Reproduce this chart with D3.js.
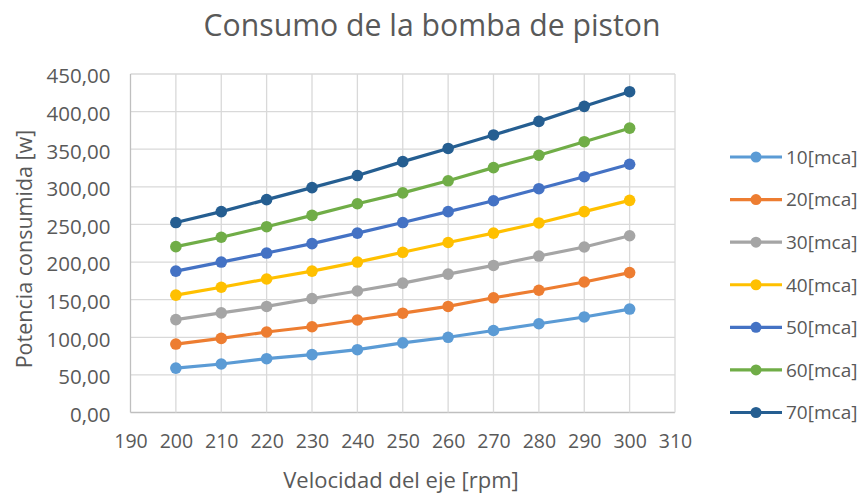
<!DOCTYPE html>
<html><head><meta charset="utf-8">
<script src="https://cdn.jsdelivr.net/npm/d3@7"></script>
<style>
html,body{margin:0;padding:0;background:#fff;}
text{font-family:"Open Sans",Lato,sans-serif;fill:#595959;}
</style></head>
<body><svg id="c" width="864" height="496"></svg>
<script>
const rpm = [200,210,220,230,240,250,260,270,280,290,300];
const seriesNames = ["10[mca]","20[mca]","30[mca]","40[mca]","50[mca]","60[mca]","70[mca]"];
const s10 = [59,64.5,71.5,77,83.5,92.5,100,109,118,127,137.5];
const s20 = [91,98.5,107,114,123,132,141,152.5,162.5,173.5,186];
const s30 = [123.5,132.5,141,151.5,161.5,172,184,195.5,208,220,235];
const s40 = [156,166.5,177.5,188,200,213,226,238.5,252,267,282];
const s50 = [188,200,212,224.5,238.5,252.5,267,281.5,297.5,313.5,330];
const s60 = [220.5,233,247,262,277.5,292,308,325.5,342,360,378];
const s70 = [252.5,267,283,299,315,333.5,351,369,387,407,426.5];
const xTicks = [190,200,210,220,230,240,250,260,270,280,290,300,310];
const yTicks = [0,50,100,150,200,250,300,350,400,450];
const colors = ["#5B9BD5","#ED7D31","#A5A5A5","#FFC000","#4472C4","#70AD47","#255E91"];
const allSeries = [s10,s20,s30,s40,s50,s60,s70];

const svg = d3.select("#c");
const x = d3.scaleLinear().domain([190,310]).range([130.5,675]);
const y = d3.scaleLinear().domain([0,450]).range([412.5,74]);

// gridlines
svg.append("g").selectAll("line.h").data(yTicks).join("line")
  .attr("x1",x(190)).attr("x2",x(310)).attr("y1",d=>y(d)).attr("y2",d=>y(d))
  .attr("stroke",d=>d===0?"#BFBFBF":"#D9D9D9").attr("stroke-width",1.3);
svg.append("g").selectAll("line.v").data(xTicks).join("line")
  .attr("x1",d=>x(d)).attr("x2",d=>x(d)).attr("y1",y(0)).attr("y2",y(450))
  .attr("stroke",d=>d===190?"#BFBFBF":"#D9D9D9").attr("stroke-width",1.3);

// axes labels
const fmt = d => d3.format(".2f")(d).replace(".",",");
const yAxis = svg.append("g").attr("transform",`translate(${x(190)-20},1.5)`)
  .call(d3.axisLeft(y).tickValues(yTicks).tickFormat(fmt).tickSize(0));
yAxis.select(".domain").remove();
yAxis.selectAll("text").attr("x",0).attr("dy","0.36em").attr("font-size",20.5).style("font-family","Open Sans").attr("fill","#595959");
const xAxis = svg.append("g").attr("transform",`translate(0,${y(0)+22})`)
  .call(d3.axisBottom(x).tickValues(xTicks).tickFormat(d3.format("d")).tickSize(0));
xAxis.select(".domain").remove();
xAxis.selectAll("text").attr("y",0).attr("dy","0.71em").attr("font-size",19.5).style("font-family","Open Sans").attr("fill","#595959");

// series
const line = d3.line().x((d,i)=>x(rpm[i])).y(d=>y(d));
allSeries.forEach((s,k)=>{
  const g = svg.append("g");
  g.append("path").datum(s).attr("d",line).attr("fill","none")
    .attr("stroke",colors[k]).attr("stroke-width",3.2).attr("stroke-linecap","round");
  g.selectAll("circle").data(s).join("circle")
    .attr("cx",(d,i)=>x(rpm[i])).attr("cy",d=>y(d)).attr("r",5.8).attr("fill",colors[k]);
});

// titles
svg.append("text").attr("x",432).attr("y",36).attr("text-anchor","middle")
  .attr("font-size",30.2).text("Consumo de la bomba de piston");
svg.append("text").attr("x",401).attr("y",488).attr("text-anchor","middle")
  .attr("font-size",22).text("Velocidad del eje [rpm]");
svg.append("text").attr("transform","translate(32,249) rotate(-90)").attr("text-anchor","middle")
  .attr("font-size",21.5).text("Potencia consumida [w]");

// legend
const leg = svg.append("g");
const legY = d3.scaleLinear().domain([0,6]).range([157,412.5]);
seriesNames.forEach((n,k)=>{
  const yy = legY(k);
  leg.append("line").attr("x1",730).attr("x2",782).attr("y1",yy).attr("y2",yy)
    .attr("stroke",colors[k]).attr("stroke-width",3.2);
  leg.append("circle").attr("cx",756).attr("cy",yy).attr("r",5.5).attr("fill",colors[k]);
  leg.append("text").attr("x",786).attr("y",yy).attr("dy","0.36em").attr("font-size",19).text(n);
});
</script></body></html>
